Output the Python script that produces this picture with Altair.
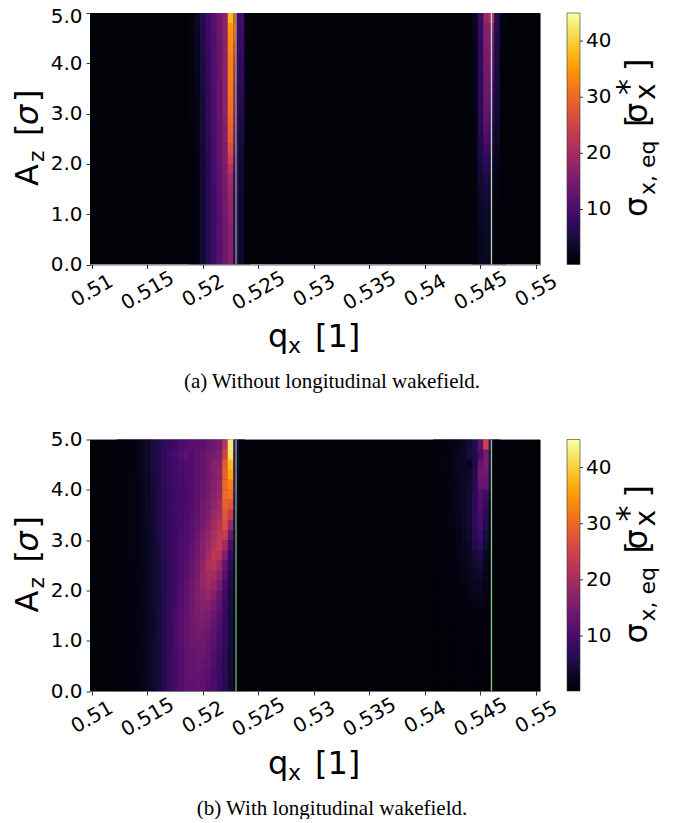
import altair as alt
import pandas as pd

x_tick_values = [0.51, 0.515, 0.52, 0.525, 0.53, 0.535, 0.54, 0.545, 0.55]
y_tick_values = [0, 1, 2, 3, 4, 5]
cbar_ticks = [10, 20, 30, 40]
row_edges = [0.0, 0.2, 0.4, 0.6, 0.8, 1.0, 1.2, 1.4, 1.6, 1.8, 2.0, 2.2, 2.4, 2.6, 2.8, 3.0,
             3.2, 3.4, 3.6, 3.8, 4.0, 4.2, 4.4, 4.6, 4.8, 5.0]

# column edges of the bright bands
top_left_edges = [0.51875, 0.51925, 0.51975, 0.52025, 0.52075, 0.52125, 0.52175, 0.52225, 0.52275, 0.523, 0.52325, 0.52375, 0.52425]
top_right_edges = [0.54425, 0.54475, 0.54525, 0.54575, 0.546, 0.54625, 0.54675, 0.54725]
bot_left_edges = [0.51225, 0.51275, 0.51325, 0.51375, 0.51425, 0.51475, 0.51525, 0.51575, 0.51625, 0.51675,
                  0.51725, 0.51775, 0.51825, 0.51875, 0.51925, 0.51975, 0.52025, 0.52075, 0.52125, 0.52175,
                  0.52225, 0.52275, 0.523, 0.52325, 0.52375]
bot_right_edges = [0.54075, 0.54125, 0.54175, 0.54225, 0.54275, 0.54325, 0.54375, 0.54425, 0.54475, 0.54525,
                   0.54575, 0.546, 0.54625, 0.54675]

# rows bottom (A=0.1) to top (A=4.9)
top_left = [
    [0.9, 1.5, 4.0, 6.5, 9.0, 11.5, 14.0, 16.5, 6.5, 7.0, 3.5, 1.0],
    [0.9, 1.5, 4.0, 6.5, 9.0, 11.5, 14.0, 16.5, 6.5, 7.0, 3.5, 1.0],
    [0.9, 1.5, 4.0, 6.5, 9.0, 11.5, 14.0, 17.0, 6.5, 7.0, 3.5, 1.0],
    [0.9, 1.5, 4.0, 6.5, 9.0, 11.5, 14.0, 17.0, 6.5, 7.0, 3.5, 1.0],
    [0.9, 1.5, 4.0, 6.5, 9.0, 11.6, 14.2, 17.5, 6.5, 7.0, 3.5, 1.0],
    [0.9, 1.6, 4.0, 6.5, 9.0, 11.7, 14.4, 18.0, 6.5, 7.0, 3.5, 1.0],
    [0.9, 1.6, 4.0, 6.5, 9.0, 11.8, 14.6, 18.5, 7.0, 7.0, 3.5, 1.0],
    [1.0, 1.6, 4.0, 6.6, 9.2, 12.0, 14.8, 19.0, 7.5, 7.0, 3.6, 1.0],
    [1.0, 1.7, 4.0, 6.6, 9.4, 12.2, 15.0, 20.0, 8.5, 7.0, 3.7, 1.0],
    [1.0, 1.7, 4.1, 6.8, 9.6, 12.4, 15.4, 22.0, 9.5, 7.0, 3.8, 1.0],
    [1.0, 1.8, 4.2, 6.8, 9.8, 12.6, 15.8, 25.0, 11.0, 7.2, 4.0, 1.0],
    [1.0, 1.8, 4.2, 7.0, 10.0, 12.8, 16.0, 27.0, 13.0, 7.2, 4.4, 1.0],
    [1.1, 1.9, 4.3, 7.0, 10.0, 12.8, 16.2, 28.5, 14.5, 7.4, 4.8, 1.1],
    [1.1, 1.9, 4.4, 7.2, 10.2, 13.0, 16.4, 29.5, 15.5, 7.6, 5.2, 1.1],
    [1.2, 2.0, 4.4, 7.4, 10.4, 13.0, 16.6, 30.0, 17.0, 7.8, 5.6, 1.2],
    [1.2, 2.0, 4.5, 7.5, 10.5, 13.0, 17.0, 31.0, 18.0, 8.0, 6.0, 1.2],
    [1.2, 2.1, 4.6, 7.6, 10.6, 13.0, 17.0, 31.5, 19.0, 8.2, 6.4, 1.2],
    [1.3, 2.2, 4.8, 7.8, 10.6, 13.0, 17.0, 32.0, 20.0, 8.4, 6.8, 1.3],
    [1.3, 2.3, 5.0, 8.0, 10.8, 13.2, 17.0, 32.5, 21.0, 8.6, 7.2, 1.3],
    [1.3, 2.4, 5.2, 8.2, 10.8, 13.2, 17.0, 33.0, 22.0, 8.8, 7.6, 1.3],
    [1.4, 2.5, 5.4, 8.4, 11.0, 13.4, 17.0, 33.0, 24.0, 9.0, 8.0, 1.4],
    [1.4, 2.6, 5.6, 8.6, 11.0, 13.4, 17.0, 33.5, 26.0, 9.4, 8.4, 1.4],
    [1.5, 2.8, 5.8, 8.8, 11.0, 13.5, 17.0, 34.0, 28.0, 9.8, 8.8, 1.5],
    [1.5, 3.0, 6.0, 9.0, 11.2, 13.6, 17.0, 35.0, 29.0, 10.0, 9.2, 1.6],
    [1.6, 3.2, 6.2, 9.4, 11.5, 14.0, 17.0, 38.0, 28.0, 10.0, 9.5, 1.6],
]
top_right = [
    [1.2, 2.6, 2.8, 2.0, 1.5, 0.9, 0.7],
    [1.2, 2.6, 3.0, 2.2, 1.5, 0.9, 0.7],
    [1.2, 2.8, 3.2, 2.4, 1.6, 0.9, 0.7],
    [1.2, 2.8, 3.4, 2.6, 1.6, 1.0, 0.7],
    [1.2, 3.0, 3.6, 2.8, 1.6, 1.0, 0.7],
    [1.3, 3.2, 3.8, 3.0, 1.8, 1.0, 0.7],
    [1.3, 3.4, 4.2, 3.2, 2.0, 1.2, 0.7],
    [1.3, 3.6, 4.8, 3.6, 2.2, 1.4, 0.7],
    [1.4, 4.0, 5.5, 4.2, 2.6, 1.6, 0.7],
    [1.4, 4.4, 6.5, 5.0, 3.0, 2.0, 0.7],
    [1.5, 5.0, 7.5, 6.0, 3.6, 2.4, 0.8],
    [1.5, 5.6, 9.0, 7.5, 4.4, 2.8, 0.8],
    [1.6, 6.0, 10.5, 9.0, 5.2, 3.2, 0.8],
    [1.6, 6.4, 11.5, 10.0, 6.0, 3.6, 0.8],
    [1.7, 6.6, 12.5, 11.0, 7.0, 4.0, 0.9],
    [1.7, 6.8, 13.0, 12.0, 8.0, 4.2, 0.9],
    [1.8, 7.0, 13.5, 13.0, 9.0, 4.4, 0.9],
    [1.8, 7.2, 14.0, 13.5, 10.0, 4.6, 1.0],
    [1.9, 7.2, 14.0, 14.0, 11.0, 4.8, 1.0],
    [1.9, 7.4, 14.5, 15.0, 12.0, 5.0, 1.1],
    [2.0, 7.6, 15.0, 15.5, 13.0, 5.2, 1.1],
    [2.0, 7.6, 15.5, 16.0, 14.0, 5.4, 1.2],
    [2.2, 7.8, 16.0, 16.5, 15.0, 5.8, 1.2],
    [2.4, 8.0, 16.5, 17.0, 17.0, 6.2, 1.4],
    [2.6, 8.5, 18.0, 21.0, 22.0, 6.5, 1.6],
]
bot_left = [
    [0.7, 0.9, 1.1, 1.4, 1.8, 2.5, 3.5, 4.5, 6.0, 8.0, 9.5, 11.0, 12.0, 12.5, 13.0, 12.0, 11.0, 10.0, 8.0, 6.5, 4.0, 2.2, 1.0, 0.7],
    [0.7, 0.9, 1.1, 1.4, 1.8, 2.5, 3.5, 4.5, 6.0, 8.0, 9.5, 11.0, 12.0, 12.8, 13.0, 12.5, 11.5, 10.0, 8.5, 6.5, 4.0, 2.2, 1.0, 0.7],
    [0.7, 0.9, 1.1, 1.4, 1.8, 2.5, 3.5, 4.5, 6.0, 8.0, 9.6, 11.0, 12.2, 13.0, 13.3, 13.0, 12.0, 10.5, 8.5, 7.0, 4.0, 2.2, 1.0, 0.7],
    [0.7, 0.9, 1.1, 1.4, 1.8, 2.5, 3.5, 4.5, 6.0, 8.0, 9.6, 11.0, 12.4, 13.2, 13.6, 13.4, 12.4, 11.0, 9.0, 7.0, 4.2, 2.3, 1.0, 0.7],
    [0.7, 0.9, 1.1, 1.4, 1.8, 2.5, 3.5, 4.5, 6.0, 8.0, 9.8, 11.2, 12.6, 13.5, 14.0, 13.8, 12.8, 11.5, 9.5, 7.5, 4.4, 2.4, 1.0, 0.7],
    [0.7, 0.9, 1.1, 1.4, 1.8, 2.5, 3.3, 4.5, 6.0, 8.0, 9.8, 11.4, 12.8, 13.8, 14.4, 14.3, 13.4, 12.0, 10.0, 7.8, 4.5, 2.5, 1.0, 0.7],
    [0.7, 0.9, 1.1, 1.4, 1.8, 2.5, 3.3, 4.5, 6.0, 7.8, 9.8, 11.4, 12.8, 14.0, 14.8, 15.0, 14.2, 12.8, 10.5, 8.0, 4.6, 2.5, 1.0, 0.7],
    [0.7, 0.9, 1.1, 1.4, 1.8, 2.5, 3.3, 4.5, 6.0, 7.8, 9.6, 11.3, 12.8, 14.2, 15.2, 15.8, 15.2, 13.6, 11.0, 8.2, 4.8, 2.5, 1.0, 0.7],
    [0.7, 0.9, 1.1, 1.4, 1.8, 2.5, 3.4, 4.5, 6.0, 7.6, 9.4, 11.0, 12.6, 14.2, 15.6, 16.6, 16.4, 14.8, 12.0, 8.6, 5.0, 2.6, 1.0, 0.7],
    [0.7, 0.9, 1.1, 1.4, 1.8, 2.5, 3.4, 4.5, 6.0, 7.5, 9.2, 10.8, 12.4, 14.0, 15.8, 17.6, 18.0, 16.2, 13.0, 9.0, 5.0, 2.6, 1.1, 0.7],
    [0.7, 0.9, 1.1, 1.4, 1.8, 2.5, 3.5, 4.5, 6.0, 7.4, 9.0, 10.6, 12.0, 13.8, 15.6, 18.0, 19.5, 18.0, 15.0, 10.0, 5.4, 2.8, 1.2, 0.7],
    [0.7, 0.9, 1.1, 1.4, 1.8, 2.5, 3.5, 4.5, 6.0, 7.4, 8.8, 10.4, 11.8, 13.4, 15.2, 18.0, 20.0, 20.0, 17.0, 11.5, 6.0, 3.0, 1.2, 0.7],
    [0.7, 0.9, 1.1, 1.4, 1.9, 2.6, 3.6, 4.6, 6.2, 7.4, 8.8, 10.2, 11.4, 13.0, 14.8, 17.5, 21.0, 22.0, 19.0, 13.0, 7.0, 3.2, 1.4, 0.8],
    [0.8, 1.0, 1.2, 1.5, 2.0, 2.7, 3.7, 4.8, 6.2, 7.6, 8.8, 10.0, 11.0, 12.6, 14.4, 17.0, 20.0, 22.5, 22.0, 16.0, 8.5, 3.6, 1.4, 0.8],
    [0.8, 1.0, 1.2, 1.5, 2.0, 2.8, 3.8, 5.0, 6.4, 7.8, 9.0, 10.0, 10.8, 12.0, 14.0, 16.5, 19.0, 21.5, 23.5, 20.0, 10.5, 4.0, 1.5, 0.8],
    [0.8, 1.0, 1.2, 1.6, 2.1, 2.9, 3.9, 5.2, 6.4, 7.8, 9.0, 9.8, 10.6, 11.8, 13.5, 15.8, 18.0, 20.5, 23.0, 24.0, 14.0, 4.5, 1.6, 0.8],
    [0.8, 1.0, 1.2, 1.6, 2.2, 3.0, 4.0, 5.4, 6.6, 8.0, 9.0, 9.6, 10.4, 11.6, 13.0, 15.0, 17.0, 19.5, 22.0, 26.5, 19.0, 5.0, 1.8, 0.8],
    [0.8, 1.0, 1.2, 1.6, 2.2, 3.0, 4.0, 5.4, 6.6, 8.0, 9.0, 9.6, 10.2, 11.2, 12.6, 14.5, 16.0, 18.5, 20.5, 28.0, 24.0, 6.0, 2.0, 0.8],
    [0.8, 1.0, 1.2, 1.6, 2.2, 3.0, 4.0, 5.5, 6.8, 8.2, 9.0, 9.4, 10.0, 11.0, 12.4, 14.0, 15.5, 17.5, 19.5, 29.0, 28.0, 7.0, 2.4, 0.8],
    [0.8, 1.0, 1.2, 1.6, 2.2, 3.0, 4.0, 5.5, 7.0, 8.2, 8.8, 9.4, 10.0, 10.8, 12.2, 13.5, 15.0, 17.0, 18.5, 30.0, 31.0, 8.0, 2.8, 0.9],
    [0.8, 1.0, 1.2, 1.6, 2.3, 3.0, 4.2, 5.6, 7.2, 8.2, 9.0, 9.6, 10.2, 11.0, 12.0, 13.5, 14.5, 16.5, 18.0, 30.0, 33.0, 9.0, 3.0, 0.9],
    [0.8, 1.0, 1.3, 1.7, 2.4, 3.2, 4.4, 5.8, 7.2, 8.4, 9.0, 9.8, 10.4, 10.8, 12.0, 13.0, 14.5, 16.0, 17.5, 29.0, 36.0, 9.0, 3.5, 1.0],
    [0.8, 1.0, 1.3, 1.8, 2.5, 3.4, 4.6, 6.0, 7.4, 8.6, 9.4, 10.0, 10.6, 11.0, 12.5, 13.0, 14.5, 16.5, 17.0, 28.0, 38.0, 9.0, 4.0, 1.0],
    [0.8, 1.0, 1.4, 1.9, 2.6, 3.6, 4.8, 6.2, 7.6, 9.0, 9.5, 10.5, 12.0, 11.0, 12.0, 13.0, 14.0, 15.0, 16.0, 25.0, 42.0, 9.0, 5.0, 1.0],
    [0.8, 1.0, 1.4, 1.9, 2.6, 3.6, 4.8, 6.0, 7.0, 8.0, 9.0, 10.0, 11.0, 11.5, 11.5, 12.0, 13.0, 14.0, 15.0, 22.0, 43.0, 10.0, 5.0, 1.0],
]
bot_right = [
    [0.6, 0.6, 0.6, 0.6, 0.7, 0.7, 0.7, 0.7, 0.7, 0.7, 0.6, 0.6, 0.6],
    [0.6, 0.6, 0.6, 0.6, 0.7, 0.7, 0.7, 0.8, 0.8, 0.7, 0.6, 0.6, 0.6],
    [0.6, 0.6, 0.6, 0.7, 0.7, 0.7, 0.8, 0.8, 0.8, 0.8, 0.6, 0.6, 0.6],
    [0.6, 0.6, 0.7, 0.7, 0.7, 0.8, 0.8, 0.9, 0.9, 0.8, 0.6, 0.6, 0.6],
    [0.6, 0.6, 0.7, 0.7, 0.8, 0.8, 0.9, 0.9, 0.9, 0.8, 0.7, 0.6, 0.6],
    [0.6, 0.7, 0.7, 0.8, 0.8, 0.9, 1.0, 1.0, 1.0, 0.9, 0.7, 0.6, 0.6],
    [0.7, 0.7, 0.8, 0.8, 0.9, 1.0, 1.1, 1.2, 1.2, 1.0, 0.7, 0.6, 0.6],
    [0.7, 0.7, 0.8, 0.9, 1.0, 1.1, 1.3, 1.4, 1.4, 1.2, 0.8, 0.6, 0.6],
    [0.7, 0.8, 0.9, 1.0, 1.1, 1.3, 1.5, 1.8, 2.1, 1.5, 0.9, 0.7, 0.6],
    [0.7, 0.8, 0.9, 1.1, 1.3, 1.6, 2.0, 2.4, 2.5, 1.8, 1.0, 0.7, 0.6],
    [0.7, 0.9, 1.0, 1.2, 1.4, 1.8, 2.2, 2.8, 3.0, 2.0, 1.0, 0.7, 0.6],
    [0.8, 0.9, 1.1, 1.3, 1.5, 2.0, 2.5, 3.2, 3.6, 2.2, 1.1, 0.7, 0.6],
    [0.8, 1.0, 1.1, 1.4, 1.7, 2.2, 2.8, 3.8, 4.5, 2.5, 1.2, 0.7, 0.6],
    [0.8, 1.0, 1.2, 1.5, 1.9, 2.4, 3.0, 4.5, 5.5, 3.0, 1.3, 0.7, 0.6],
    [0.8, 1.0, 1.2, 1.5, 2.0, 2.6, 3.5, 5.5, 7.0, 4.0, 1.5, 0.8, 0.6],
    [0.9, 1.0, 1.2, 1.6, 2.1, 2.8, 3.8, 6.5, 8.5, 5.0, 1.6, 0.8, 0.6],
    [0.9, 1.0, 1.2, 1.6, 2.2, 3.0, 4.0, 7.0, 9.5, 6.0, 1.8, 0.8, 0.6],
    [0.9, 1.1, 1.3, 1.7, 2.3, 3.0, 4.0, 7.5, 10.0, 7.0, 2.0, 0.8, 0.6],
    [0.9, 1.1, 1.3, 1.8, 2.4, 3.0, 4.0, 7.5, 10.5, 8.0, 2.2, 0.9, 0.7],
    [0.9, 1.1, 1.4, 1.9, 2.5, 3.0, 4.0, 7.0, 11.0, 9.0, 3.5, 1.0, 0.7],
    [1.0, 1.2, 1.5, 1.9, 2.5, 3.0, 3.8, 6.5, 13.0, 13.0, 4.5, 1.1, 0.7],
    [1.0, 1.2, 1.5, 2.0, 2.6, 3.0, 3.5, 6.0, 14.0, 14.0, 5.0, 1.2, 0.8],
    [1.0, 1.3, 1.6, 2.2, 3.0, 3.2, 2.5, 5.5, 13.0, 15.0, 5.5, 1.4, 0.8],
    [1.0, 1.3, 1.5, 2.0, 2.6, 3.0, 4.5, 5.5, 10.0, 15.0, 6.0, 1.5, 0.9],
    [1.0, 1.3, 1.5, 1.8, 2.2, 2.8, 4.0, 6.0, 12.0, 25.0, 8.0, 2.0, 1.0],
]
background_value = 0.55
q_range = [0.50975, 0.55037]
line_positions = [0.523, 0.546]
top_line_colors = ["#6fb07a", "#b5d8b2"]
bot_line_colors = ["#68bd6c", "#7fd07f"]

X0, X1 = 0.50985, 0.55037
W, H = 450, 251.5
FONT = "DejaVu Sans"
Q_OVERLAP, A_OVERLAP = 0.00004, 0.012  # cells slightly overlap so that no seams show


def block(edges, table):
    rows = []
    for i, row in enumerate(table):
        for j, v in enumerate(row):
            rows.append(dict(q0=edges[j], q1=edges[j + 1] + Q_OVERLAP, a0=row_edges[i],
                             a1=row_edges[i + 1] + A_OVERLAP, z=v))
    return rows


def text(s, x, y, size, angle=0, style="normal", font=FONT, align="left"):
    return alt.Chart(pd.DataFrame({"t": [s]})).mark_text(
        font=font, fontSize=size, angle=angle, fontStyle=style, align=align,
        baseline="alphabetic", color="black", clip=False,
    ).encode(x=alt.value(x), y=alt.value(y), text="t:N")


def panel(blocks, line_colors, caption, caption_y, top_label_shift):
    rows = [dict(q0=q_range[0], q1=q_range[1], a0=0.0, a1=5.0, z=background_value)]
    for e, t in blocks:
        rows += block(e, t)
    df = pd.DataFrame(rows)
    sx = alt.Scale(domain=[X0, X1], nice=False, zero=False)
    sy = alt.Scale(domain=[0, 5], nice=False)
    color = alt.Color(
        "z:Q",
        scale=alt.Scale(scheme="inferno", domain=[0.2, 45]),
        legend=alt.Legend(
            type="gradient", orient="none", legendX=477, legendY=0, title=None, gradientLength=H,
            gradientThickness=13, values=cbar_ticks, labelFontSize=20, labelFont=FONT,
            labelColor="black", labelOffset=6, gradientStrokeColor="#333", gradientStrokeWidth=0.6,
        ),
    )
    rect = alt.Chart(df).mark_rect(clip=True).encode(
        x=alt.X(
            "q0:Q", scale=sx,
            axis=alt.Axis(
                values=x_tick_values, format=".3~f", title=None, labelAngle=330, labelAlign="center",
                labelBaseline="middle", labelFontSize=20, labelFont=FONT, labelColor="black",
                tickColor="black", tickSize=4, tickWidth=0.8, domain=False, grid=False,
                labelPadding=22, labelOverlap=False, labelFlush=False, labelBound=False,
            ),
        ),
        x2="q1:Q",
        y=alt.Y(
            "a0:Q", scale=sy,
            axis=alt.Axis(
                values=y_tick_values, format=".1f", title=None, labelFontSize=20, labelFont=FONT,
                labelColor="black", tickColor="black", tickSize=4, tickWidth=0.8, domain=False,
                grid=False, labelPadding=4, labelOverlap=False, labelFlush=False, labelBound=False,
                labelOffset={"condition": {"test": "datum.value == 5", "value": top_label_shift}, "value": 0},
            ),
        ),
        y2="a1:Q",
        color=color,
    )
    lines = [
        alt.Chart(pd.DataFrame({"q": [q]})).mark_rule(color=c, strokeWidth=1.3).encode(
            x=alt.X("q:Q", scale=sx), y=alt.value(0), y2=alt.value(H)
        )
        for q, c in zip(line_positions, line_colors)
    ]
    ticks = [
        alt.Chart(pd.DataFrame({"v": [v]})).mark_rule(color="black", strokeWidth=0.8).encode(
            x=alt.value(489), x2=alt.value(493), y=alt.value(H * (45 - v) / 44.8)
        )
        for v in cbar_ticks
    ]
    labels = [
        # x axis title
        text("q", 178, 334, 32),
        text("x", 198, 340, 22),
        text("[1]", 225, 334, 32),
        # y axis title
        text("A", -52, 173, 32, angle=270),
        text("z", -46, 149, 22, angle=270),
        text("[", -52, 123, 32, angle=270),
        text("σ", -52, 112, 32, angle=270, style="italic"),
        text("]", -52, 89, 32, angle=270),
        # colour bar title
        text("σ", 557, 204, 32, angle=270),
        text("x, eq", 565, 182, 22, angle=270),
        text("[", 558, 114, 32, angle=270),
        text("σ", 557, 110, 32, angle=270),
        text("*", 549, 82, 32, angle=270),
        text("x", 565, 87, 28, angle=270),
        text("]", 558, 58, 32, angle=270),
        # caption
        text(caption, 242, caption_y, 21, font="Liberation Serif", align="center"),
    ]
    return alt.layer(rect, *lines, *ticks, *labels).properties(width=W, height=H)


top = panel([(top_left_edges, top_left), (top_right_edges, top_right)], top_line_colors,
            "(a) Without longitudinal wakefield.", 375, 3)
bot = panel([(bot_left_edges, bot_left), (bot_right_edges, bot_right)], bot_line_colors,
            "(b) With longitudinal wakefield.", 375, 0)

chart = (
    alt.vconcat(top, bot, spacing=174.5, bounds="flush")
    .resolve_scale(color="independent")
    .properties(padding={"left": 3, "top": -3, "right": 0, "bottom": 0}, background="white")
    .configure_view(stroke="#777", strokeWidth=1)
)
chart.save("out.html", embed_options={"renderer": "svg", "actions": False})
